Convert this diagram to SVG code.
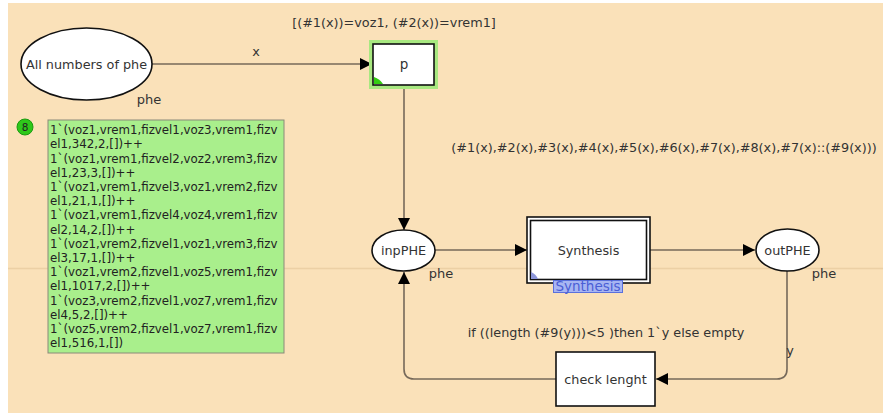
<svg xmlns="http://www.w3.org/2000/svg" width="883" height="413" viewBox="0 0 883 413">
<defs>
<style>
.t{font-family:"DejaVu Sans",Verdana,sans-serif;font-size:12.8px;fill:#333}
.n{font-family:"DejaVu Sans",Verdana,sans-serif;font-size:12.8px;fill:#333}
.m{font-family:"DejaVu Sans",Verdana,sans-serif;font-size:11.8px;fill:#222}
.arc{fill:none;stroke:#76695a;stroke-width:1.6}
.node{fill:#fff;stroke:#111;stroke-width:1.6}
</style>
<marker id="ah" viewBox="0 0 10 10" refX="10" refY="5" markerWidth="12" markerHeight="12" markerUnits="userSpaceOnUse" orient="auto">
<path d="M0,0 L10,5 L0,10 z" fill="#000"/>
</marker>
</defs>
<rect x="0" y="0" width="883" height="413" fill="#fff"/>
<rect x="8" y="3" width="875" height="410" fill="#fae1b9"/>
<line x1="8" y1="268.5" x2="883" y2="268.5" stroke="#ecd0a5" stroke-width="1.5"/>

<g id="connectors">
<path class="arc" d="M152,64 L372,64" marker-end="url(#ah)"/>
<path class="arc" d="M404,85 L404,230" marker-end="url(#ah)"/>
<path class="arc" d="M435,250 L527,250" marker-end="url(#ah)"/>
<path class="arc" d="M650,250 L755,250" marker-end="url(#ah)"/>
<path class="arc" d="M787,271 L787,369 Q787,379 777,379 L656,379" marker-end="url(#ah)"/>
<path class="arc" d="M556,379 L414,379 Q404,379 404,369 L404,272" marker-end="url(#ah)"/>
<text class="t" x="256" y="56" text-anchor="middle">x</text>
<text class="t" x="394" y="27" text-anchor="middle">[(#1(x))=voz1, (#2(x))=vrem1]</text>
<text class="t" x="664" y="152" text-anchor="middle">(#1(x),#2(x),#3(x),#4(x),#5(x),#6(x),#7(x),#8(x),#7(x)::(#9(x)))</text>
<text class="t" x="606" y="337" text-anchor="middle">if ((length (#9(y)))&lt;5 )then 1`y else empty</text>
<text class="t" x="790" y="355" text-anchor="middle">y</text>
</g>

<g id="place-all">
<ellipse class="node" cx="86.5" cy="64" rx="65.5" ry="36"/>
<text class="n" x="86.5" y="69" text-anchor="middle">All numbers of phe</text>
<text class="t" x="149" y="104" text-anchor="middle" style="font-size:13px">phe</text>
</g>

<g id="marking">
<circle cx="25" cy="127" r="8" fill="#2ec81a" stroke="#1a9a10" stroke-width="1"/>
<text x="25" y="131" text-anchor="middle" font-family="DejaVu Sans,sans-serif" font-size="10.5" fill="#222">8</text>
<rect x="48" y="120" width="236" height="233" fill="#a9ef8c" stroke="#8a8a7a" stroke-width="1"/>
<text class="m" x="50" y="134">1`(voz1,vrem1,fizvel1,voz3,vrem1,fizv</text>
<text class="m" x="50" y="148">el1,342,2,[])++</text>
<text class="m" x="50" y="162.5">1`(voz1,vrem1,fizvel2,voz2,vrem3,fizv</text>
<text class="m" x="50" y="176.5">el1,23,3,[])++</text>
<text class="m" x="50" y="191">1`(voz1,vrem1,fizvel3,voz1,vrem2,fizv</text>
<text class="m" x="50" y="205">el1,21,1,[])++</text>
<text class="m" x="50" y="219">1`(voz1,vrem1,fizvel4,voz4,vrem1,fizv</text>
<text class="m" x="50" y="233.5">el2,14,2,[])++</text>
<text class="m" x="50" y="247.5">1`(voz1,vrem2,fizvel1,voz1,vrem3,fizv</text>
<text class="m" x="50" y="262">el3,17,1,[])++</text>
<text class="m" x="50" y="276">1`(voz1,vrem2,fizvel1,voz5,vrem1,fizv</text>
<text class="m" x="50" y="290">el1,1017,2,[])++</text>
<text class="m" x="50" y="304.5">1`(voz3,vrem2,fizvel1,voz7,vrem1,fizv</text>
<text class="m" x="50" y="318.5">el4,5,2,[])++</text>
<text class="m" x="50" y="333">1`(voz5,vrem2,fizvel1,voz7,vrem1,fizv</text>
<text class="m" x="50" y="347">el1,516,1,[])</text>
</g>

<g id="trans-p">
<rect x="371" y="42" width="65" height="45" fill="none" stroke="#a8e880" stroke-width="4"/>
<rect class="node" x="373" y="44" width="61" height="41"/>
<path d="M374,84 L374,77 Q380,79 383,84 z" fill="#33cc11"/>
<text class="n" x="404" y="69" text-anchor="middle" style="font-size:13.5px">p</text>
</g>

<g id="place-inp">
<ellipse class="node" cx="403.5" cy="250.5" rx="31.5" ry="20.5"/>
<text class="t" x="403.5" y="255" text-anchor="middle">inpPHE</text>
<text class="t" x="441" y="278" text-anchor="middle" style="font-size:13px">phe</text>
</g>

<g id="trans-synthesis">
<rect x="527" y="217" width="123" height="66" fill="#fff" stroke="#111" stroke-width="1.6"/>
<rect x="530.5" y="220.5" width="116" height="59" fill="#fff" stroke="#111" stroke-width="1.6"/>
<path d="M531,279 L531,272 Q536,274 538,279 z" fill="#8c95d8"/>
<text class="n" x="588.5" y="255" text-anchor="middle">Synthesis</text>
<rect x="553.5" y="280.5" width="69" height="12" fill="#a7b5f2" stroke="#5a70dc" stroke-width="1"/>
<text class="t" x="588" y="291" text-anchor="middle" style="fill:#4a5ed6;font-size:13.5px">Synthesis</text>
</g>

<g id="place-out">
<ellipse class="node" cx="787.5" cy="250" rx="31.5" ry="21"/>
<text class="t" x="787.5" y="255" text-anchor="middle">outPHE</text>
<text class="t" x="824" y="278" text-anchor="middle" style="font-size:13px">phe</text>
</g>

<g id="trans-check">
<rect class="node" x="556" y="352" width="99" height="54"/>
<text class="n" x="605.5" y="384" text-anchor="middle">check lenght</text>
</g>
</svg>
